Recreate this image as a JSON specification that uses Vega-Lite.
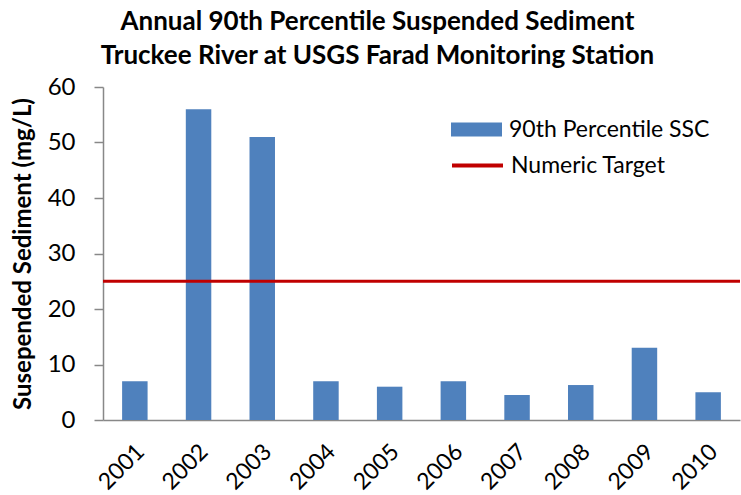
{
  "$schema": "https://vega.github.io/schema/vega-lite/v6.json",
  "width": 637,
  "height": 333,
  "autosize": {"type": "none"},
  "padding": {"left": 103, "top": 87, "right": 1, "bottom": 75},
  "background": "white",
  "config": {"view": {"stroke": null}, "font": "Lato"},
  "title": {
    "text": ["Annual 90th Percentile Suspended Sediment", "Truckee River at USGS Farad Monitoring Station"],
    "font": "Lato",
    "fontSize": 26,
    "fontWeight": "bold",
    "color": "black",
    "anchor": "middle",
    "dx": -44,
    "offset": 6,
    "lineHeight": 34
  },
  "data": {"values": [
    {"year": "2001", "ssc": 7, "series": "90th Percentile SSC"},
    {"year": "2002", "ssc": 56, "series": "90th Percentile SSC"},
    {"year": "2003", "ssc": 51, "series": "90th Percentile SSC"},
    {"year": "2004", "ssc": 7, "series": "90th Percentile SSC"},
    {"year": "2005", "ssc": 6, "series": "90th Percentile SSC"},
    {"year": "2006", "ssc": 7, "series": "90th Percentile SSC"},
    {"year": "2007", "ssc": 4.5, "series": "90th Percentile SSC"},
    {"year": "2008", "ssc": 6.3, "series": "90th Percentile SSC"},
    {"year": "2009", "ssc": 13, "series": "90th Percentile SSC"},
    {"year": "2010", "ssc": 5, "series": "90th Percentile SSC"}
  ]},
  "layer": [
    {
      "mark": {"type": "bar"},
      "encoding": {
        "x": {
          "field": "year", "type": "nominal", "title": null,
          "scale": {"paddingInner": 0.6, "paddingOuter": 0.3},
          "axis": {"labelAngle": -45, "labelFontSize": 23, "labelColor": "black", "labelFont": "Lato",
                   "ticks": false, "domainColor": "#888888", "domainWidth": 1.5, "labelPadding": 20,
                   "labelAlign": "right", "labelBaseline": "top", "labelOffset": -2}
        },
        "y": {
          "field": "ssc", "type": "quantitative",
          "title": "Susepended Sediment (mg/L)",
          "scale": {"domain": [0, 60], "nice": false},
          "axis": {"values": [0, 10, 20, 30, 40, 50, 60], "grid": false, "labelFontSize": 24, "labelColor": "black",
                   "labelFont": "Lato", "domainColor": "#888888", "domainWidth": 1.5, "tickColor": "#888888",
                   "tickSize": 9, "tickWidth": 1.5, "labelPadding": 19,
                   "titleFontSize": 24, "titleFontWeight": "bold", "titleColor": "black", "titleFont": "Lato",
                   "titlePadding": 12}
        },
        "fill": {
          "field": "series", "type": "nominal",
          "scale": {"range": ["#4f81bd"]},
          "legend": {"title": null, "orient": "none", "legendX": 347, "legendY": 16,
                     "symbolType": "M-1,-0.27H1V0.27H-1Z", "symbolSize": 2601, "symbolOpacity": 1,
                     "labelFontSize": 23, "labelColor": "black", "labelFont": "Lato", "labelOffset": 6, "labelLimit": 0}
        }
      }
    },
    {
      "data": {"values": [{"target": 25, "label": "Numeric Target"}]},
      "mark": {"type": "rule", "strokeWidth": 3},
      "encoding": {
        "y": {"field": "target", "type": "quantitative"},
        "stroke": {
          "field": "label", "type": "nominal",
          "scale": {"range": ["#c00000"]},
          "legend": {"title": null, "orient": "none", "legendX": 347, "legendY": 51,
                     "symbolType": "stroke", "symbolSize": 2601, "symbolStrokeWidth": 4,
                     "labelFontSize": 23, "labelColor": "black", "labelFont": "Lato", "labelOffset": 6, "labelLimit": 0}
        }
      }
    }
  ]
}
